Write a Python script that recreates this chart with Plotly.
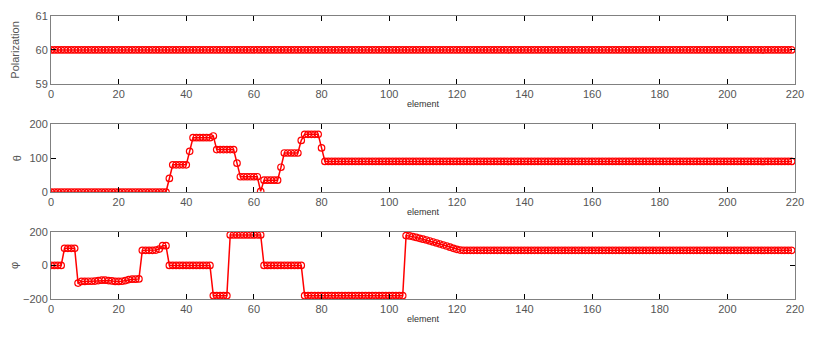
import plotly.graph_objects as go
from plotly.subplots import make_subplots

elements = list(range(0, 220))

polarization = [60] * 220

theta = ([0] * 35 + [40] + [80] * 5 + [120] + [160] * 6 + [165] + [125] * 6 + [85]
         + [45] * 6 + [2] + [35] * 5 + [73] + [115] * 5 + [152] + [170] * 5 + [130]
         + [90] * 139)

phi = ([0] * 4 + [102] * 4 + [-105]
       + [-95, -95, -94, -94, -93, -90, -88, -88, -90, -92, -95, -95, -94, -90, -84, -82, -82, -80]
       + [90, 90, 90, 90, 92, 98, 118, 118]
       + [0] * 13 + [-180] * 5 + [182] * 10 + [0] * 12 + [-180] * 30
       + [178, 176, 172, 167, 162, 157, 152, 146, 140, 134, 128, 122, 116, 109, 102, 96, 92]
       + [90] * 98)

x_ticks = [0, 20, 40, 60, 80, 100, 120, 140, 160, 180, 200, 220]

fig = make_subplots(rows=3, cols=1, vertical_spacing=0.14)

red = "#ff0000"
for i, ys in enumerate([polarization, theta, phi], start=1):
    fig.add_trace(go.Scatter(
        x=elements, y=ys, mode="lines+markers",
        line=dict(color=red, width=1.5),
        marker=dict(symbol="circle-open", size=6.5, color=red, line=dict(width=1.2, color=red)),
        showlegend=False, hoverinfo="skip"), row=i, col=1)

axis_common = dict(
    showline=True, linecolor="#808080", linewidth=1, mirror="ticks",
    ticks="inside", ticklen=5, tickcolor="#000000", tickwidth=1,
    showgrid=False, zeroline=False, automargin=False,
    tickfont=dict(family="Liberation Sans, Arial", size=11, color="#555555"),
)

domains_y = [[0.760, 1.0], [0.378, 0.618], [0.0, 0.237]]
ylabels = ["Polarization", "θ", "φ"]
ystandoffs = [13, 5, 4]
yranges = [[59, 61], [0, 200], [-200, 200]]
yticks = [[59, 60, 61], [0, 100, 200], [-200, 0, 200]]

for i in range(3):
    xa = "xaxis" if i == 0 else f"xaxis{i+1}"
    ya = "yaxis" if i == 0 else f"yaxis{i+1}"
    fig.layout[xa].update(range=[0, 220], tickvals=x_ticks, domain=[0, 1],
                          title=dict(text="element", font=dict(family="Liberation Sans, Arial", size=9, color="#333333"), standoff=1),
                          **axis_common)
    fig.layout[ya].update(range=yranges[i], tickvals=yticks[i], domain=domains_y[i],
                          title=dict(text=ylabels[i], font=dict(family="Liberation Sans, Arial", size=11, color="#555555"), standoff=ystandoffs[i]),
                          **axis_common)

# the page body adds an 8px offset, compensated in the margins
fig.update_layout(
    width=830, height=340,
    margin=dict(l=43, r=43, t=8, b=49),
    paper_bgcolor="white", plot_bgcolor="white",
)

fig.write_html("out.html")
